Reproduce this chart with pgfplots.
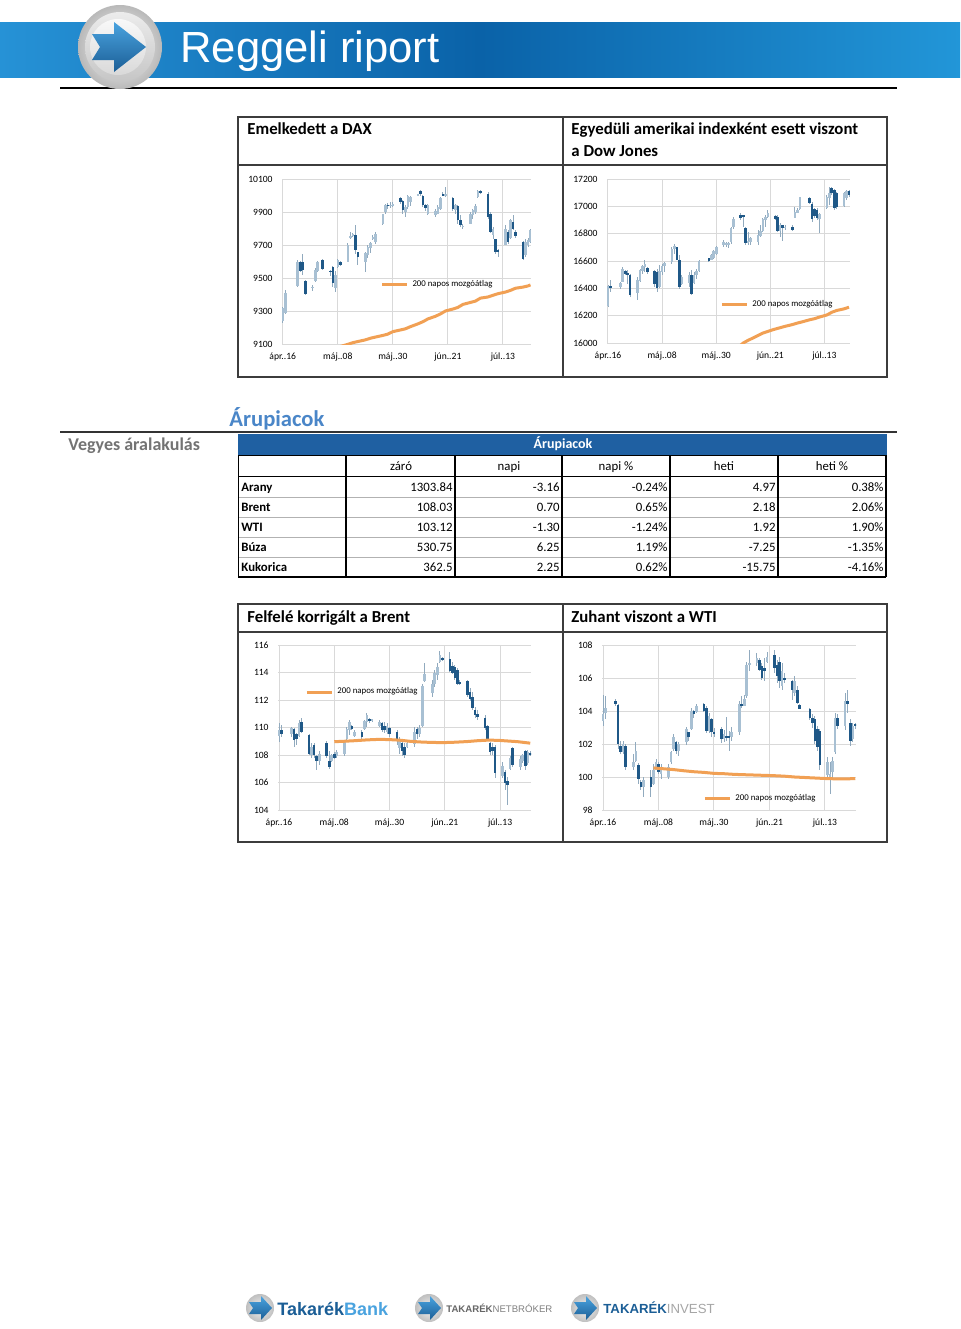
\documentclass[border=0pt]{standalone}
\usepackage{fontspec}
\setmainfont{Carlito}
\newfontfamily\arialf{Liberation Sans}
\usepackage{pgfplots}
\pgfplotsset{compat=1.18}
\usepackage{pgfplotstable}

\definecolor{candup}{RGB}{168,192,211}
\definecolor{canddn}{RGB}{31,88,135}
\definecolor{wick}{RGB}{145,170,190}
\definecolor{maorange}{RGB}{241,160,84}
\definecolor{gridc}{RGB}{217,217,217}
\definecolor{boxc}{RGB}{60,60,60}
\definecolor{hdrblue}{RGB}{31,96,162}
\definecolor{headblue}{RGB}{74,134,200}
\definecolor{bandL}{RGB}{38,146,214}
\definecolor{bandM}{RGB}{10,98,168}
\definecolor{bandR}{RGB}{34,150,216}
\definecolor{logoblue}{RGB}{27,94,150}
\definecolor{logolight}{RGB}{74,163,223}

\newcommand\tickfont{\fontsize{4.8}{5.5}\selectfont}
\newcommand\legfont{\fontsize{4.4}{5}\selectfont}
\newcommand\tabfont{\fontsize{6.4}{7}\selectfont}

% daily candles: d = days from 16 Apr, o h l c
\pgfplotstableread{
d o h l c
0 9240 9325 9225 9317
1 9290 9425 9280 9409
6 9450 9610 9445 9600
7 9600 9605 9535 9545
8 9600 9645 9518 9550
9 9480 9485 9395 9401
12 9440 9455 9420 9446
13 9480 9560 9476 9550
14 9545 9605 9536 9600
16 9610 9615 9548 9556
19 9545 9550 9510 9535
20 9565 9570 9445 9467
21 9440 9540 9415 9521
22 9565 9615 9560 9607
23 9600 9605 9572 9581
26 9600 9710 9597 9702
27 9745 9780 9736 9754
28 9760 9770 9750 9765
29 9760 9821 9645 9670
30 9655 9657 9579 9630
33 9600 9657 9536 9650
34 9640 9700 9620 9690
35 9680 9720 9650 9712
36 9735 9760 9730 9750
37 9720 9780 9706 9768
40 9830 9890 9820 9885
41 9900 9950 9890 9940
42 9945 9955 9920 9935
43 9935 9960 9925 9945
44 9938 9960 9930 9950
47 9985 9990 9950 9960
48 9965 9970 9890 9910
49 9900 9940 9870 9930
50 9930 10005 9920 9995
51 9960 10000 9935 9990
54 10000 10012 9998 10006
55 10030 10035 10000 10010
56 10000 10005 9930 9945
57 9945 9950 9905 9925
58 9890 9950 9880 9940
61 9880 9920 9870 9905
62 9890 9940 9885 9930
63 9920 9990 9915 9985
64 10010 10020 9995 10000
65 9995 10050 9990 10010
68 9985 9990 9905 9920
69 9915 9950 9890 9940
70 9935 9940 9830 9850
71 9850 9880 9810 9820
72 9810 9830 9800 9815
75 9830 9900 9830 9890
76 9880 9920 9860 9910
77 9900 9950 9890 9935
78 9990 10031 9985 10025
79 10030 10035 10010 10015
82 10010 10020 9860 9870
83 9890 9900 9770 9780
84 9760 9809 9738 9800
85 9735 9738 9648 9658
86 9670 9678 9627 9662
89 9700 9819 9700 9800
90 9780 9790 9708 9720
91 9740 9860 9738 9850
92 9840 9880 9789 9800
93 9780 9790 9740 9755
96 9720 9725 9607 9617
97 9640 9738 9630 9720
98 9700 9740 9690 9730
99 9720 9800 9715 9790
}\dax
\pgfplotstableread{
d v
23 9085
26 9098
28 9108
30 9115
33 9125
35 9135
37 9142
40 9152
42 9160
44 9175
47 9185
49 9192
51 9205
54 9222
56 9235
58 9252
61 9268
63 9282
65 9300
68 9312
70 9322
72 9340
75 9352
77 9360
79 9378
82 9385
84 9395
86 9405
89 9415
91 9425
93 9438
96 9445
98 9452
99 9458
}\daxma

\pgfplotstableread{
d o h l c
0 16270 16422 16263 16420
1 16415 16458 16373 16409
5 16410 16446 16397 16440
6 16450 16556 16446 16540
7 16530 16532 16495 16505
8 16510 16532 16434 16500
9 16500 16507 16337 16350
12 16365 16483 16312 16460
13 16455 16544 16446 16535
14 16530 16568 16507 16560
15 16555 16605 16519 16575
16 16550 16556 16507 16520
19 16525 16532 16410 16430
20 16520 16544 16373 16400
21 16410 16568 16400 16530
22 16520 16580 16495 16560
23 16560 16592 16519 16585
26 16590 16702 16580 16690
27 16690 16727 16654 16710
28 16700 16702 16605 16610
29 16605 16641 16397 16410
30 16430 16495 16422 16480
33 16440 16519 16410 16500
34 16500 16532 16349 16360
35 16440 16519 16434 16500
36 16500 16544 16470 16530
37 16530 16605 16519 16600
41 16620 16625 16593 16600
42 16610 16654 16605 16645
43 16620 16678 16617 16670
44 16650 16710 16641 16700
47 16720 16751 16702 16740
48 16720 16739 16702 16730
49 16720 16739 16695 16730
50 16740 16849 16727 16840
51 16850 16922 16837 16910
54 16940 16950 16900 16915
55 16935 16937 16852 16920
56 16840 16852 16718 16735
57 16730 16815 16718 16750
58 16740 16779 16718 16770
61 16740 16828 16718 16790
62 16785 16864 16779 16820
63 16820 16913 16815 16905
64 16900 16937 16852 16920
65 16920 16974 16913 16950
68 16930 16937 16900 16910
69 16925 16937 16815 16820
70 16820 16876 16779 16865
71 16860 16864 16745 16845
72 16845 16864 16828 16850
75 16850 16864 16820 16826
76 16915 16998 16913 16955
77 16955 16986 16949 16975
78 16980 17071 16974 17068
82 17060 17068 17020 17025
83 17020 17034 16888 16905
84 16980 16986 16913 16930
85 16975 16986 16900 16915
86 16905 16949 16803 16945
89 16990 17081 16983 17070
90 17060 17141 17007 17100
91 17135 17141 17080 17100
92 17117 17129 16971 16985
93 17100 17105 16983 16995
96 17000 17105 16995 17095
97 17060 17117 17044 17110
98 17110 17117 17068 17080
}\dow
\pgfplotstableread{
d v
54 15985
55 16000
57 16020
59 16037
61 16055
63 16073
65 16085
67 16097
70 16112
72 16122
75 16135
77 16146
79 16155
82 16170
84 16178
86 16190
89 16205
91 16225
93 16238
96 16250
98 16262
}\dowma

\pgfplotstableread{
d o h l c
0 109.4 110.35 108.97 109.8
1 109.8 110.2 109.33 109.5
5 109.5 110.06 109.33 110.0
6 109.9 109.94 108.6 109.1
7 109.5 109.6 108.73 109.2
8 109.4 110.55 109.33 110.3
9 110.4 110.67 109.58 109.7
12 109.45 109.5 108.0 108.1
13 108.0 108.85 107.8 108.6
14 108.7 108.85 107.8 108.0
15 107.9 108.0 106.9 107.6
16 107.6 108.3 107.3 108.1
19 108.85 109.0 107.8 107.9
20 107.6 108.3 107.0 107.1
21 107.6 108.1 107.5 108.0
22 108.1 108.2 107.7 107.8
23 107.9 108.4 107.8 108.2
26 108.1 109.1 107.9 109.0
27 109.2 110.06 109.1 109.9
28 109.8 110.55 109.45 110.4
29 110.1 110.2 109.8 109.9
30 109.4 109.8 109.3 109.7
33 109.7 109.8 109.2 109.3
34 109.9 110.55 109.8 110.5
35 110.4 111.03 110.06 110.9
36 110.6 110.7 110.3 110.5
37 110.5 110.6 110.4 110.6
40 110.1 110.55 110.06 110.4
41 110.35 110.4 109.7 109.8
42 110.1 110.4 109.6 109.8
43 109.7 110.3 109.5 110.1
44 110.0 110.06 109.33 109.5
47 109.7 109.8 108.7 109.0
48 108.5 109.3 108.1 109.0
49 108.9 109.1 107.9 108.3
50 108.6 108.85 107.8 108.0
51 108.6 109.1 108.5 108.9
54 108.8 110.06 108.6 109.7
55 109.9 110.06 109.2 109.5
56 109.5 110.2 109.3 110.0
57 110.1 113.2 110.06 113.0
58 113.4 114.67 113.3 113.9
61 112.5 113.45 112.24 113.2
62 113.2 114.2 112.97 114.0
63 113.8 114.67 113.45 114.4
64 114.8 115.6 114.67 115.3
65 115.05 115.1 114.85 114.9
68 115.0 115.5 114.06 114.1
69 114.5 114.8 113.9 114.0
70 114.4 114.55 113.45 113.6
71 114.2 114.3 113.1 113.15
72 113.3 113.45 113.1 113.2
75 113.4 113.45 112.24 112.4
76 112.6 112.85 111.9 112.1
77 112.2 112.6 111.27 111.4
78 111.3 111.5 110.7 110.9
79 111.0 111.27 110.55 110.8
82 110.7 110.9 109.8 110.0
83 110.1 110.2 109.1 109.1
84 108.9 108.97 108.0 108.2
85 108.6 108.85 108.0 108.3
86 108.6 108.7 106.3 106.7
89 106.5 107.5 106.3 107.2
90 106.8 106.9 105.45 106.0
91 106.1 106.4 104.4 105.8
92 107.0 107.9 106.9 107.8
93 108.5 108.6 107.1 107.3
96 107.1 107.9 106.9 107.7
97 107.6 108.1 107.4 108.0
98 108.3 108.4 106.9 107.2
99 107.4 108.4 107.3 108.2
100 108.15 108.3 107.9 108.03
}\brent
\pgfplotstableread{
d v
22 108.97
26 109.0
30 109.04
35 109.1
40 109.14
44 109.12
48 109.08
52 109.0
56 108.95
60 108.92
65 108.9
70 108.93
75 108.98
79 109.04
83 109.08
87 109.07
91 109.02
95 108.97
100 108.86
}\brentma

\pgfplotstableread{
d o h l c
0 103.4 105.0 103.1 103.8
1 103.9 104.9 103.5 104.2
5 104.6 104.7 104.3 104.4
6 104.35 104.4 101.7 102.0
7 101.9 102.2 101.4 101.5
8 101.5 102.2 101.4 102.0
9 101.9 102.0 100.4 100.6
12 100.6 101.4 100.4 100.9
13 100.95 102.1 100.9 101.6
14 100.7 100.85 99.6 99.9
15 99.7 99.8 99.2 99.4
16 99.4 100.0 98.8 99.8
19 100.0 100.4 98.8 99.4
20 99.6 100.8 99.5 100.4
21 100.45 101.1 100.4 100.9
22 100.8 100.9 100.2 100.3
23 100.2 100.8 99.9 100.6
26 100.0 100.8 99.9 100.6
27 100.9 101.6 100.8 101.5
28 101.7 102.6 101.6 102.4
29 102.1 102.2 101.4 101.6
30 101.6 102.1 101.3 102.0
33 102.1 103.05 101.95 102.9
34 102.7 102.75 102.2 102.4
35 102.9 104.2 102.85 104.0
36 104.0 104.06 103.6 103.8
37 103.95 104.4 103.9 104.3
40 104.4 104.47 103.96 104.0
41 104.2 104.3 102.65 102.8
42 102.8 103.9 102.65 103.7
43 103.5 103.6 102.45 102.75
44 102.7 103.0 102.4 102.6
47 102.9 103.05 102.04 102.3
48 102.3 102.85 102.1 102.6
49 102.5 103.66 102.2 102.4
50 102.5 102.8 101.6 102.4
51 102.4 103.05 102.2 102.7
54 102.7 104.6 102.55 104.4
55 104.4 104.9 104.2 104.3
56 104.3 105.0 104.3 104.7
57 104.9 107.0 104.8 106.8
58 106.8 107.7 106.4 106.9
61 106.9 107.5 106.7 107.2
62 107.1 107.2 106.4 106.5
63 106.7 106.9 105.9 106.0
64 106.6 107.2 105.8 106.4
65 106.95 107.6 106.9 107.3
68 107.4 107.7 106.3 106.6
69 106.8 107.1 105.7 106.1
70 107.0 107.3 105.4 105.8
71 105.5 106.9 105.3 106.4
72 106.0 106.3 105.7 105.9
75 105.8 105.9 104.67 105.3
76 105.1 106.1 104.9 105.8
77 105.3 105.5 104.4 104.5
78 104.35 104.4 104.1 104.15
82 104.1 104.2 103.45 103.6
83 103.6 103.8 103.0 103.3
84 103.5 103.7 102.0 102.2
85 102.9 103.1 101.6 101.8
86 102.8 102.9 100.4 100.7
89 100.1 101.2 100.0 100.9
90 100.0 100.9 99.0 100.2
91 100.3 101.2 99.95 101.0
92 101.5 103.9 101.4 103.6
93 103.6 103.85 102.9 103.1
96 103.1 105.1 102.85 104.6
97 104.6 105.3 103.9 104.42
98 103.3 103.5 101.9 102.2
99 102.3 103.3 102.1 103.1
100 103.2 103.3 102.9 103.12
}\wti
\pgfplotstableread{
d v
20 100.55
24 100.5
28 100.45
32 100.38
36 100.32
40 100.28
44 100.22
48 100.2
52 100.16
56 100.14
60 100.12
64 100.1
68 100.08
72 100.05
76 100.0
80 99.97
84 99.94
88 99.91
92 99.89
96 99.89
100 99.9
}\wtima

% wick from low to high, body from open to close (light = up, dark = down)
\newcommand\candles[2]{%
  \addplot[draw=none, mark=none, forget plot,
    error bars/.cd, y dir=both, y explicit, error mark=none,
    error bar style={draw=wick, line width=0.45pt}]
    table[x=d, y expr={(\thisrow{h}+\thisrow{l})/2},
          y error expr={(\thisrow{h}-\thisrow{l})/2}] {#1};
  \addplot[draw=none, mark=none, forget plot,
    error bars/.cd, y dir=both, y explicit, error mark=none,
    error bar style={draw=candup, line width=1.3pt}]
    table[x=d, y expr={\thisrow{c}>=\thisrow{o} ? (\thisrow{o}+\thisrow{c})/2 : nan},
          y error expr={max(abs(\thisrow{c}-\thisrow{o})/2,#2)}] {#1};
  \addplot[draw=none, mark=none, forget plot,
    error bars/.cd, y dir=both, y explicit, error mark=none,
    error bar style={draw=canddn, line width=1.3pt}]
    table[x=d, y expr={\thisrow{c}<\thisrow{o} ? (\thisrow{o}+\thisrow{c})/2 : nan},
          y error expr={max(abs(\thisrow{c}-\thisrow{o})/2,#2)}] {#1};
}

\pgfplotsset{rep/.style={
  scale only axis, anchor=south west,
  axis line style={draw=none}, tick style={draw=none},
  grid=major, major grid style={draw=gridc, line width=0.5pt},
  tick label style={font=\tickfont, inner sep=0pt},
  scaled y ticks=false,
  /pgf/number format/assume math mode=true,
  /pgf/number format/1000 sep={},
  xtick={0,22,44,66,88},
  xticklabels={ápr..16,máj..08,máj..30,jún..21,júl..13},
  xticklabel style={yshift=-4.2pt},
  yticklabel style={xshift=-4.5pt},
  legend style={draw=none, fill=none, font=\legfont, inner sep=0pt,
    legend cell align=left},
  legend image code/.code={\draw[##1] (0pt,0pt) -- (12.5pt,0pt);},
}}

\begin{document}
\begin{tikzpicture}
\begin{scope}[x=0.5pt, y=-0.5pt]
\path[use as bounding box] (0,0) rectangle (960,1329);
\fill[white] (0,0) rectangle (960,1329);

% header band
\shade[left color=bandL, right color=bandR, middle color=bandM] (0,22) rectangle (960,77);
\draw[black, line width=1pt] (60,88) -- (897,88);
% logo
\shade[inner color=white, outer color=gray!55] (120,47) circle (42);
\shade[top color=gray!15, bottom color=gray!45] (120,47) circle (35);
\shade[top color=gray!5, bottom color=gray!30] (118,47) circle (28);
\shade[top color=logolight, bottom color=logoblue]
  (92,34) -- (114,34) -- (114,22) -- (146,47) -- (114,72) -- (114,60) -- (92,60) -- (100,47) -- cycle;
\node[anchor=base west, inner sep=0pt, text=white, font=\arialf\fontsize{21.8}{24}\selectfont]
  at (180,62) {Reggeli riport};

% top chart frame
\draw[boxc, line width=0.75pt] (238,117) rectangle (887,377);
\draw[boxc, line width=0.75pt] (563,117) -- (563,377);
\draw[boxc, line width=0.75pt] (238,165) -- (887,165);
\node[anchor=base west, inner sep=0pt, font=\bfseries\fontsize{8.4}{10}\selectfont]
  at (247,134) {Emelkedett a DAX};
\node[anchor=base west, inner sep=0pt, font=\bfseries\fontsize{8.4}{10}\selectfont]
  at (571,134) {Egyedüli amerikai indexként esett viszont};
\node[anchor=base west, inner sep=0pt, font=\bfseries\fontsize{8.4}{10}\selectfont]
  at (571,156) {a Dow Jones};

% bottom chart frame
\draw[boxc, line width=0.75pt] (238,604) rectangle (887,842);
\draw[boxc, line width=0.75pt] (563,604) -- (563,842);
\draw[boxc, line width=0.75pt] (238,632) -- (887,632);
\node[anchor=base west, inner sep=0pt, font=\bfseries\fontsize{8.4}{10}\selectfont]
  at (247,622) {Felfelé korrigált a Brent};
\node[anchor=base west, inner sep=0pt, font=\bfseries\fontsize{8.4}{10}\selectfont]
  at (571,622) {Zuhant viszont a WTI};

% commodities table
\node[anchor=base west, inner sep=0pt, text=headblue, font=\bfseries\fontsize{11.3}{13}\selectfont]
  at (229,426) {Árupiacok};
\draw[black!80, line width=1pt] (60,432) -- (897,432);
\node[anchor=base west, inner sep=0pt, text=black!55, font=\bfseries\fontsize{9}{11}\selectfont]
  at (68,450) {Vegyes áralakulás};
\fill[hdrblue] (238,434) rectangle (887,455);
\node[anchor=base, inner sep=0pt, text=white, font=\bfseries\fontsize{7}{8}\selectfont]
  at (563,448) {Árupiacok};
\foreach \yy in {497,517,537,557} \draw[gray!60, line width=0.4pt] (238,\yy) -- (886,\yy);
\draw[black, line width=0.9pt] (238,455.5) -- (886,455.5);
\draw[black, line width=0.9pt] (238,476.5) -- (886,476.5);
\draw[black, line width=0.6pt] (238,577) -- (886,577);
\draw[black, line width=0.6pt] (238.5,455) -- (238.5,577);
\foreach \xx in {346,455,562,670,778,886} \draw[black, line width=1pt] (\xx,455) -- (\xx,577);
\begin{scope}[every node/.style={inner sep=0pt, font=\tabfont}]
\node[anchor=base] at (401,470) {záró};
\node[anchor=base] at (509,470) {napi};
\node[anchor=base] at (616,470) {napi \%};
\node[anchor=base] at (724,470) {heti};
\node[anchor=base] at (832,470) {heti \%};
\foreach \lab/\yb/\a/\b/\c/\d/\e in {
  Arany/491/1303.84/-3.16/-0.24\%/4.97/0.38\%,
  Brent/511/108.03/0.70/0.65\%/2.18/2.06\%,
  WTI/531/103.12/-1.30/-1.24\%/1.92/1.90\%,
  Búza/551/530.75/6.25/1.19\%/-7.25/-1.35\%,
  Kukorica/571/362.5/2.25/0.62\%/-15.75/-4.16\%} {
  \node[anchor=base west, font=\tabfont\bfseries] at (241,\yb) {\lab};
  \node[anchor=base east] at (453,\yb) {\a};
  \node[anchor=base east] at (560,\yb) {\b};
  \node[anchor=base east] at (668,\yb) {\c};
  \node[anchor=base east] at (776,\yb) {\d};
  \node[anchor=base east] at (884,\yb) {\e};
}
\end{scope}

% footer logos
\foreach \cx in {260,429,585} {
  \shade[inner color=gray!10, outer color=gray!50] (\cx,1308) circle (14);
  \shade[top color=logolight, bottom color=logoblue]
    (\cx-11,1302) -- (\cx+1,1302) -- (\cx+1,1296) -- (\cx+12,1308) -- (\cx+1,1320) -- (\cx+1,1314) -- (\cx-11,1314) -- (\cx-7,1308) -- cycle;
}
\node[anchor=base west, inner sep=0pt, font=\arialf\bfseries\fontsize{9}{10}\selectfont]
  at (277,1315) {\textcolor{logoblue}{Takarék}\textcolor{logolight}{Bank}};
\node[anchor=base west, inner sep=0pt, font=\arialf\fontsize{4.8}{6}\selectfont]
  at (446,1312) {\textcolor{gray!80!black}{\bfseries TAKARÉK}\textcolor{gray}{NETBRÓKER}};
\node[anchor=base west, inner sep=0pt, font=\arialf\fontsize{6.6}{8}\selectfont]
  at (603,1313) {\textcolor{logoblue}{\bfseries TAKARÉK}\textcolor{gray!70}{INVEST}};
\end{scope}

% DAX
\begin{axis}[rep, at={(141pt,-172pt)}, width=124.5pt, height=82.5pt,
  xmin=-0.3, xmax=99.2, ymin=9100, ymax=10100, ytick={9100,9300,...,10100},
  legend style={at={(0.394,0.358)}, anchor=west}]
\candles{\dax}{3.5}
\addplot[maorange, line width=1.5pt] table[x=d, y=v] {\daxma};
\addlegendentry{200 napos mozgóátlag}
\end{axis}

% Dow Jones
\begin{axis}[rep, at={(303.5pt,-171.5pt)}, width=121.5pt, height=82pt,
  xmin=-0.4, xmax=98.4, ymin=16000, ymax=17200, ytick={16000,16200,...,17200},
  legend style={at={(0.465,0.232)}, anchor=west}]
\candles{\dow}{4.2}
\addplot[maorange, line width=1.5pt] table[x=d, y=v] {\dowma};
\addlegendentry{200 napos mozgóátlag}
\end{axis}

% Brent
\begin{axis}[rep, at={(139pt,-405pt)}, width=126.5pt, height=82.5pt,
  xmin=-0.4, xmax=100.3, ymin=104, ymax=116, ytick={104,106,...,116},
  legend style={at={(0.107,0.715)}, anchor=west}]
\candles{\brent}{0.045}
\addplot[maorange, line width=1.5pt] table[x=d, y=v] {\brentma};
\addlegendentry{200 napos mozgóátlag}
\end{axis}

% WTI
\begin{axis}[rep, at={(301pt,-405pt)}, width=127pt, height=82.5pt,
  xmin=-0.4, xmax=100.3, ymin=98, ymax=108, ytick={98,100,...,108},
  legend style={at={(0.398,0.067)}, anchor=west}]
\candles{\wti}{0.037}
\addplot[maorange, line width=1.5pt] table[x=d, y=v] {\wtima};
\addlegendentry{200 napos mozgóátlag}
\end{axis}
\end{tikzpicture}
\end{document}
